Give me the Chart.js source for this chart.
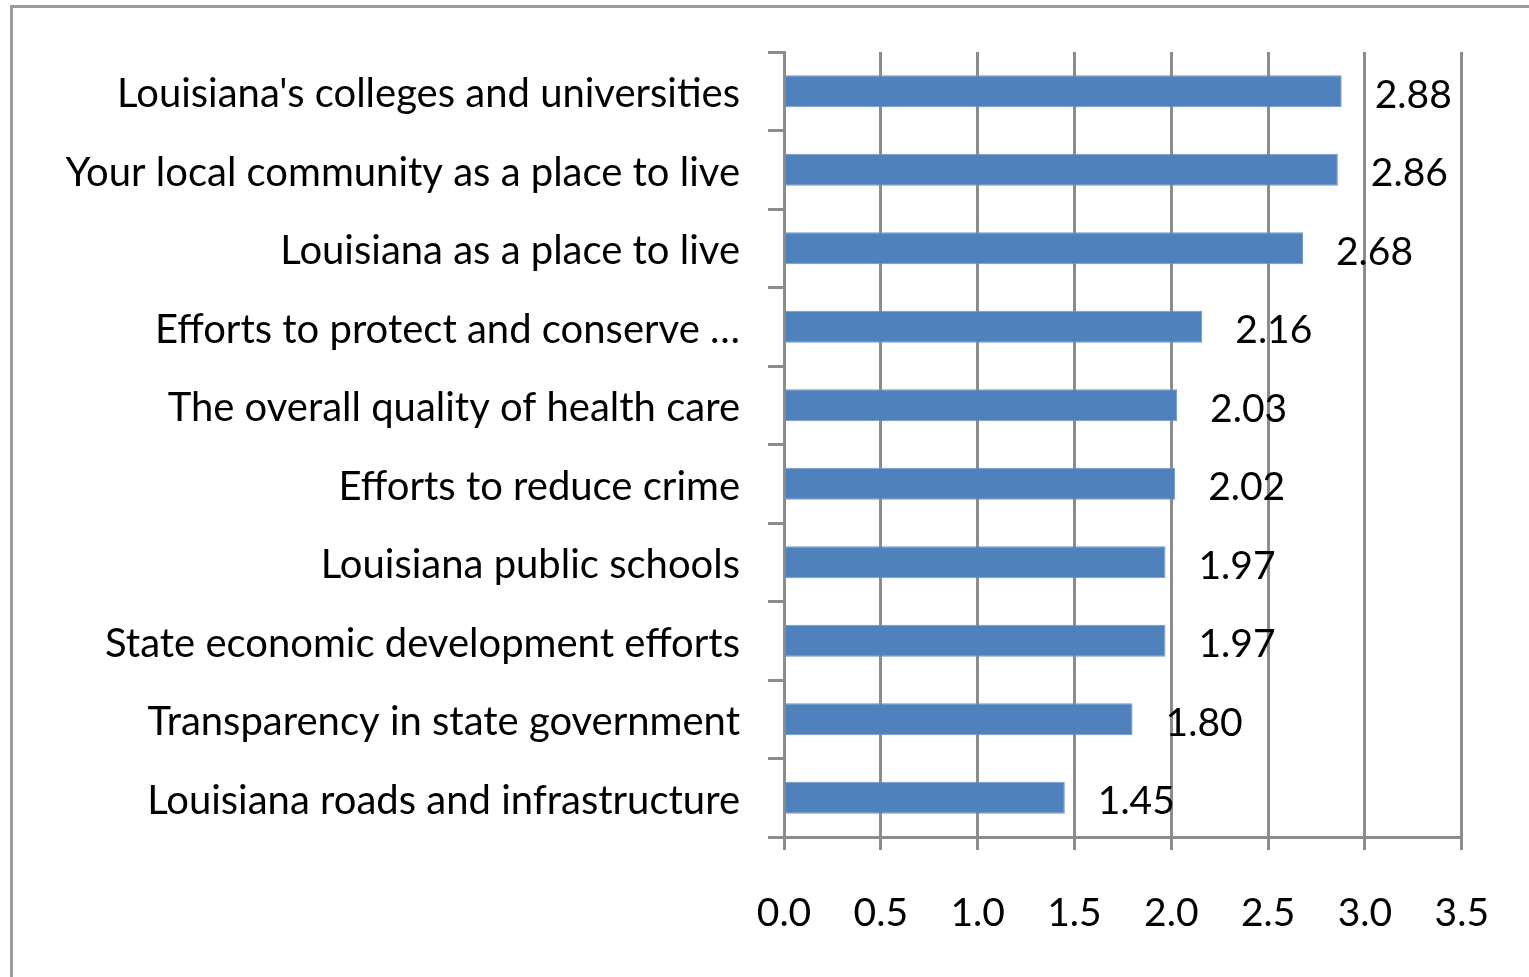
<!DOCTYPE html>
<html>
<head>
<meta charset="utf-8">
<script src="https://cdn.jsdelivr.net/npm/chart.js@4.4.1/dist/chart.umd.min.js"></script>
<style>
  html, body { margin: 0; padding: 0; background: #fff; }
  #wrap { width: 1529px; height: 977px; position: relative; }
</style>
</head>
<body>
<div id="wrap"><canvas id="ratingsChart"></canvas></div>
<script>
// chart data
const categories = [
    "Louisiana's colleges and universities",
    'Your local community as a place to live',
    'Louisiana as a place to live',
    'Efforts to protect and conserve \u2026',
    'The overall quality of health care',
    'Efforts to reduce crime',
    'Louisiana public schools',
    'State economic development efforts',
    'Transparency in state government',
    'Louisiana roads and infrastructure'
];
const ratings = [2.88, 2.86, 2.68, 2.16, 2.03, 2.02, 1.97, 1.97, 1.80, 1.45];
const xTicks = [0, 0.5, 1.0, 1.5, 2.0, 2.5, 3.0, 3.5];

const labelFont = { family: 'Lato, "Open Sans", sans-serif', size: 40 };
const numberFont = { family: 'Lato, "Open Sans", sans-serif', size: 39 };
const axisGray = '#8c8c8c';

// outer frame, like the spreadsheet chart border
const framePlugin = {
    id: 'frame',
    beforeDraw(chart) {
        const ctx = chart.ctx;
        ctx.save();
        ctx.fillStyle = '#fff';
        ctx.fillRect(0, 0, chart.width, chart.height);
        ctx.strokeStyle = '#9a9a9a';
        ctx.lineWidth = 3;
        ctx.strokeRect(11.5, 6.5, chart.width + 20, chart.height + 20);
        ctx.restore();
    }
};

// value labels to the right of each bar
const valueLabels = {
    id: 'valueLabels',
    afterDatasetsDraw(chart) {
        const ctx = chart.ctx;
        const meta = chart.getDatasetMeta(0);
        ctx.save();
        ctx.font = numberFont.size + 'px ' + numberFont.family;
        ctx.fillStyle = '#000';
        ctx.textAlign = 'left';
        ctx.textBaseline = 'middle';
        meta.data.forEach(function(bar, i) {
            ctx.fillText(ratings[i].toFixed(2), bar.x + 33, bar.y + 4);
        });
        ctx.restore();
    }
};

const ctx = document.getElementById('ratingsChart').getContext('2d');
const ratingsChart = new Chart(ctx, {
    type: 'bar',
    data: {
        labels: categories,
        datasets: [{
            data: ratings,
            backgroundColor: '#4f81bd',
            borderColor: '#6f97c9',
            borderWidth: 1,
            categoryPercentage: 1.0,
            barPercentage: 0.41
        }]
    },
    options: {
        indexAxis: 'y',
        responsive: true,
        maintainAspectRatio: false,
        animation: false,
        layout: {
            padding: { top: 52, right: 63, left: 20, bottom: 0 }
        },
        plugins: {
            legend: { display: false },
            tooltip: { enabled: false }
        },
        scales: {
            x: {
                min: 0,
                max: 3.5,
                afterBuildTicks: function(scale) {
                    scale.ticks = xTicks.map(function(v) { return { value: v }; });
                },
                afterFit: function(scale) { scale.height = 140; },
                grid: {
                    color: axisGray,
                    lineWidth: 3,
                    tickLength: 13
                },
                border: { color: axisGray, width: 3 },
                ticks: {
                    color: '#000',
                    font: numberFont,
                    padding: 40,
                    maxRotation: 0,
                    callback: function(value) { return Number(value).toFixed(1); }
                }
            },
            y: {
                afterFit: function(scale) { scale.width = 784 - 20; },
                grid: {
                    color: axisGray,
                    lineWidth: 3,
                    drawOnChartArea: false,
                    tickLength: 16,
                    offset: true
                },
                border: { color: axisGray, width: 3 },
                ticks: {
                    color: '#000',
                    font: labelFont,
                    padding: 28,
                    labelOffset: 3,
                    autoSkip: false
                }
            }
        }
    },
    plugins: [framePlugin, valueLabels]
});
</script>
</body>
</html>
